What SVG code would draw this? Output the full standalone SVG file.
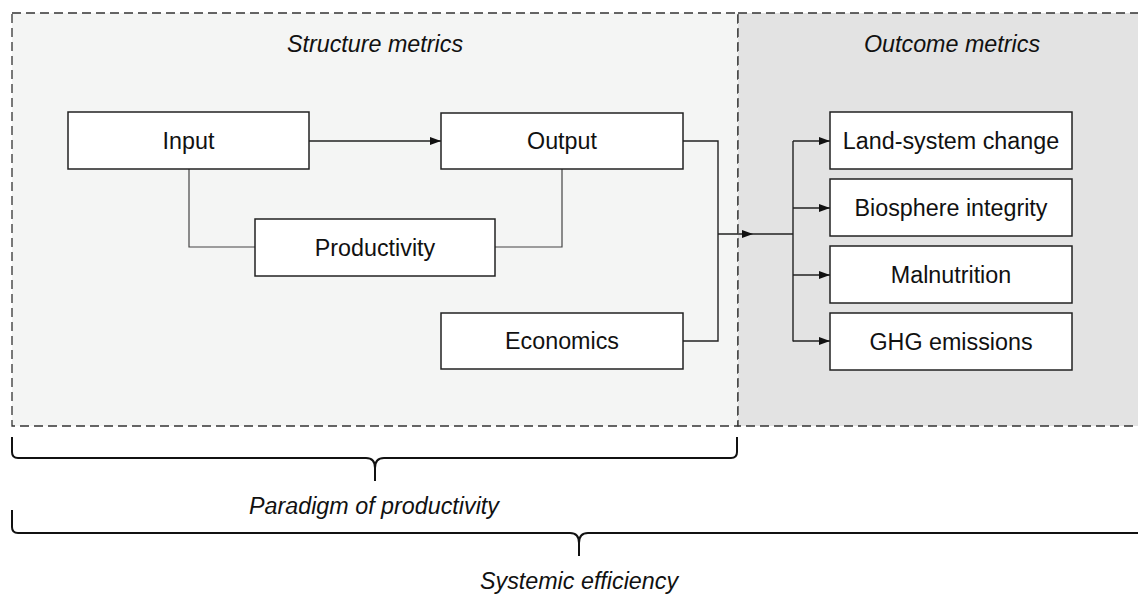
<svg xmlns="http://www.w3.org/2000/svg" width="1138" height="595" viewBox="0 0 1138 595">
<defs>
<style>
.panel{stroke:#333;stroke-width:1.3;stroke-dasharray:9 5}
.box{fill:#fff;stroke:#222;stroke-width:1.5}
.lbl{font-family:"Liberation Sans",Arial,sans-serif;font-size:23.3px;fill:#111;text-anchor:middle}
.it{font-style:italic}
.ln{fill:none;stroke:#222;stroke-width:1.4}
.ln2{fill:none;stroke:#444;stroke-width:1.2}
.brace{fill:none;stroke:#111;stroke-width:2}
</style>
<marker id="arr" markerWidth="11" markerHeight="8" refX="11" refY="4" orient="auto" markerUnits="userSpaceOnUse">
<path d="M0,0 L11,4 L0,8 Z" fill="#111"/>
</marker>
</defs>
<rect width="1138" height="595" fill="#fff"/>
<g id="structure-panel">
<rect class="panel" x="12" y="13" width="726" height="413" fill="#f4f5f4"/>
<text class="lbl it" x="375" y="52">Structure metrics</text>
</g>
<g id="outcome-panel">
<rect class="panel" x="738" y="13" width="404" height="413" fill="#e3e3e3"/>
<text class="lbl it" x="952" y="52">Outcome metrics</text>
</g>
<g id="connectors">
<line class="ln" x1="309" y1="141" x2="441" y2="141" marker-end="url(#arr)"/>
<polyline class="ln2" points="189,169 189,247 255,247"/>
<polyline class="ln2" points="495,247 562,247 562,169"/>
<polyline class="ln" points="683,141 718,141 718,341 683,341"/>
<line class="ln" x1="718" y1="234" x2="753" y2="234" marker-end="url(#arr)"/>
<line class="ln" x1="753" y1="234" x2="793" y2="234" stroke-width="2"/>
<line class="ln" x1="793" y1="141" x2="793" y2="341.5"/>
<line class="ln" x1="793" y1="141" x2="830" y2="141" marker-end="url(#arr)"/>
<line class="ln" x1="793" y1="208" x2="830" y2="208" marker-end="url(#arr)"/>
<line class="ln" x1="793" y1="275" x2="830" y2="275" marker-end="url(#arr)"/>
<line class="ln" x1="793" y1="341" x2="830" y2="341" marker-end="url(#arr)"/>
</g>
<g id="input"><rect class="box" x="68" y="112" width="241" height="57"/><text class="lbl" x="188.5" y="149">Input</text></g>
<g id="output"><rect class="box" x="441" y="113" width="242" height="56"/><text class="lbl" x="562" y="149">Output</text></g>
<g id="productivity"><rect class="box" x="255" y="219" width="240" height="57"/><text class="lbl" x="375" y="256">Productivity</text></g>
<g id="economics"><rect class="box" x="441" y="313" width="242" height="56"/><text class="lbl" x="562" y="349">Economics</text></g>
<g id="land-system-change"><rect class="box" x="830" y="112" width="242" height="57"/><text class="lbl" x="951" y="149">Land-system change</text></g>
<g id="biosphere-integrity"><rect class="box" x="830" y="179" width="242" height="57"/><text class="lbl" x="951" y="216">Biosphere integrity</text></g>
<g id="malnutrition"><rect class="box" x="830" y="246" width="242" height="57"/><text class="lbl" x="951" y="283">Malnutrition</text></g>
<g id="ghg-emissions"><rect class="box" x="830" y="313" width="242" height="57"/><text class="lbl" x="951" y="350">GHG emissions</text></g>
<g id="paradigm-brace">
<path class="brace" d="M12,437 V452 Q12,458 18,458 H366 Q375,458 375,468 V481 M375,468 Q375,458 384,458 H731 Q737,458 737,452 V437"/>
<text class="lbl it" x="374" y="514">Paradigm of productivity</text>
</g>
<g id="systemic-brace">
<path class="brace" d="M12,510 V527 Q12,533 18,533 H570 Q579,533 579,543 V556 M579,543 Q579,533 588,533 H1142"/>
<text class="lbl it" x="579" y="589">Systemic efficiency</text>
</g>
</svg>
